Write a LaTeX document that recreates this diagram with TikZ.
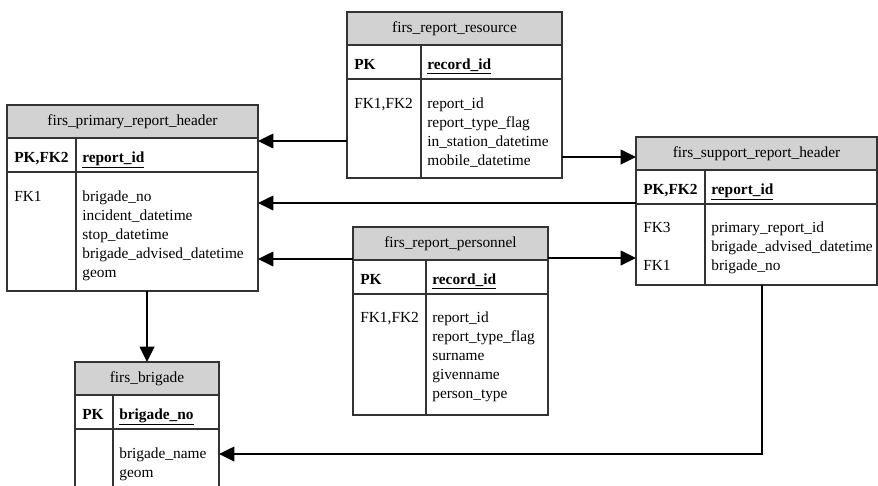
\documentclass[tikz,border=0pt]{standalone}
\usepackage{fontspec}
\setmainfont{Liberation Serif}
\usetikzlibrary{arrows.meta, positioning}
\newcommand{\pxu}{0.65pt}
\newcommand{\fieldlines}[1]{\begin{tabular}[t]{@{}l@{}}#1\end{tabular}}
\tikzset{
    cell/.style={rectangle, draw=black!80, line width=0.8pt, outer sep=0pt, inner sep=0pt},
    titlecell/.style={cell, fill=gray!35, minimum height=33*\pxu, font=\fontsize{10}{12.5}\selectfont},
    pkcell/.style={cell, fill=white, minimum height=34*\pxu},
    bodycell/.style={cell, fill=white},
    celltext/.style={anchor=base west, inner sep=0pt, font=\fontsize{10}{12.5}\selectfont},
    fk/.style={line width=1.2pt, -{Triangle[length=10pt, width=9.5pt]}}
}
% one table: name, left, top, key width, field width, body height, title, pk key, pk field
\newcommand{\dbtable}[9]{%
    \node[titlecell, minimum width=(#4+#5)*\pxu, anchor=north west] (#1t) at (#2,#3) {#7};
    \node[pkcell, minimum width=#4*\pxu, anchor=north west] (#1pk) at (#1t.south west) {};
    \node[pkcell, minimum width=#5*\pxu, anchor=north west] (#1pf) at (#1pk.north east) {};
    \node[bodycell, minimum width=#4*\pxu, minimum height=#6*\pxu, anchor=north west] (#1bk) at (#1pk.south west) {};
    \node[bodycell, minimum width=#5*\pxu, minimum height=#6*\pxu, anchor=north west] (#1bf) at (#1pf.south west) {};
    \node[celltext] (#1pkt) at ([xshift=7*\pxu, yshift=-24*\pxu]#1pk.north west) {\textbf{#8}};
    \node[celltext] (#1pft) at ([xshift=6*\pxu, yshift=-24*\pxu]#1pf.north west) {\underline{\textbf{#9}}};
}

\begin{document}
\begin{tikzpicture}[x=0.65pt, y=-0.65pt]
    \useasboundingbox (0,0) rectangle (878,485);
    \clip (0,0) rectangle (878,485);

    % tables
    \dbtable{R}{347}{12}{74}{141}{99}{firs\_report\_resource}{PK}{record\_id}
    \node[celltext] (Rkeys) at ([xshift=7*\pxu, yshift=-29*\pxu]Rbk.north west) {FK1,FK2};
    \node[celltext] (Rfields) at ([xshift=6*\pxu, yshift=-29*\pxu]Rbf.north west)
        {\fieldlines{report\_id\\report\_type\_flag\\in\_station\_datetime\\mobile\_datetime}};

    \dbtable{P}{7}{105}{69}{182}{119}{firs\_primary\_report\_header}{PK,FK2}{report\_id}
    \node[celltext] (Pkeys) at ([xshift=7*\pxu, yshift=-29*\pxu]Pbk.north west) {FK1};
    \node[celltext] (Pfields) at ([xshift=6*\pxu, yshift=-29*\pxu]Pbf.north west)
        {\fieldlines{brigade\_no\\incident\_datetime\\stop\_datetime\\brigade\_advised\_datetime\\geom}};

    \dbtable{S}{636}{137}{69}{172}{81}{firs\_support\_report\_header}{PK,FK2}{report\_id}
    \node[celltext] (Skeys) at ([xshift=7*\pxu, yshift=-28*\pxu]Sbk.north west) {\fieldlines{FK3\\ \\FK1}};
    \node[celltext] (Sfields) at ([xshift=6*\pxu, yshift=-28*\pxu]Sbf.north west)
        {\fieldlines{primary\_report\_id\\brigade\_advised\_datetime\\brigade\_no}};

    \dbtable{N}{353}{227}{73}{122}{121}{firs\_report\_personnel}{PK}{record\_id}
    \node[celltext] (Nkeys) at ([xshift=7*\pxu, yshift=-28*\pxu]Nbk.north west) {FK1,FK2};
    \node[celltext] (Nfields) at ([xshift=6*\pxu, yshift=-28*\pxu]Nbf.north west)
        {\fieldlines{report\_id\\report\_type\_flag\\surname\\givenname\\person\_type}};

    \dbtable{B}{75}{362}{38}{106}{70}{firs\_brigade}{PK}{brigade\_no}
    \node[celltext] (Bfields) at ([xshift=6*\pxu, yshift=-29*\pxu]Bbf.north west)
        {\fieldlines{brigade\_name\\geom}};

    % relations
    \draw[fk] (Rbk.west |- 0,141) -- (Pbf.east |- 0,141);
    \draw[fk] (Rbf.east |- 0,157) -- (St.west |- 0,157);
    \draw[fk] (Sbk.west |- 0,203) -- (Pbf.east |- 0,203);
    \draw[fk] (Nt.west |- 0,259) -- (Pbf.east |- 0,259);
    \draw[fk] (Nt.east |- 0,258) -- (Sbk.west |- 0,258);
    \draw[fk] (Pbf.south -| Bt.north) -- (Bt.north);
    \draw[fk] (Sbf.south -| 762,0) |- (Bbf.east |- 0,454);
\end{tikzpicture}
\end{document}
